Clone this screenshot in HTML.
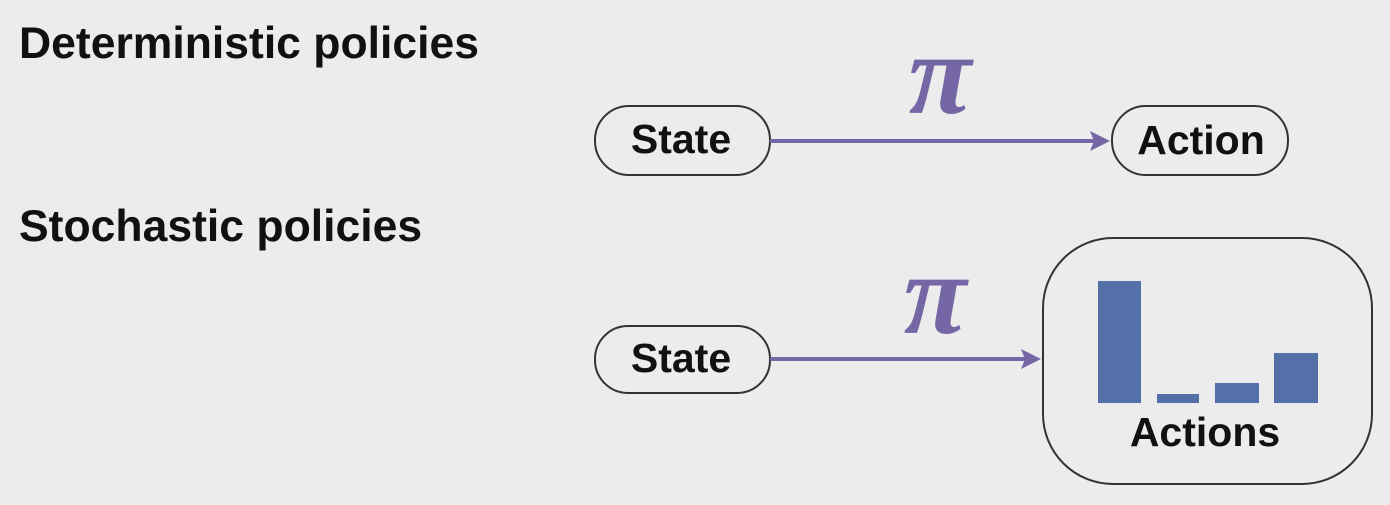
<!DOCTYPE html>
<html><head><style>
body{margin:0;background:#ececec;width:1390px;height:500px;overflow:hidden}
</style></head><body>
<svg width="1390" height="500" xmlns="http://www.w3.org/2000/svg">
<rect width="1390" height="500" fill="#ececec"/>
<g font-family="Liberation Sans, sans-serif" font-weight="bold" fill="#111">
<text x="19" y="58" font-size="44.5">Deterministic policies</text>
<text x="19" y="241" font-size="44.5">Stochastic policies</text>
</g>
<g fill="none" stroke="#333" stroke-width="2">
<rect x="595" y="106" width="175" height="69" rx="34"/>
<rect x="1112" y="106" width="176" height="69" rx="34"/>
<rect x="595" y="326" width="175" height="67" rx="33"/>
<rect x="1043" y="238" width="329" height="246" rx="70"/>
</g>
<g font-family="Liberation Sans, sans-serif" font-weight="bold" font-size="41" fill="#111" text-anchor="middle">
<text x="681" y="153">State</text>
<text x="1201" y="154">Action</text>
<text x="681" y="372">State</text>
<text x="1205" y="446">Actions</text>
</g>
<g stroke="#7566a6" stroke-width="4">
<line x1="770" y1="141" x2="1095" y2="141"/>
<line x1="770" y1="359" x2="1025" y2="359"/>
</g>
<g fill="#7566a6">
<polygon points="1110,141 1090,131 1094,141 1090,151"/>
<polygon points="1041,359 1021,349 1025,359 1021,369"/>
<text x="940" y="113" font-family="Liberation Serif, serif" font-style="italic" font-weight="bold" font-size="115" text-anchor="middle">π</text>
<text x="935" y="333" font-family="Liberation Serif, serif" font-style="italic" font-weight="bold" font-size="115" text-anchor="middle">π</text>
</g>
<g fill="#5470a8">
<rect x="1098" y="281" width="43" height="122"/>
<rect x="1157" y="394" width="42" height="9"/>
<rect x="1215" y="383" width="44" height="20"/>
<rect x="1274" y="353" width="44" height="50"/>
</g>
</svg>
</body></html>
